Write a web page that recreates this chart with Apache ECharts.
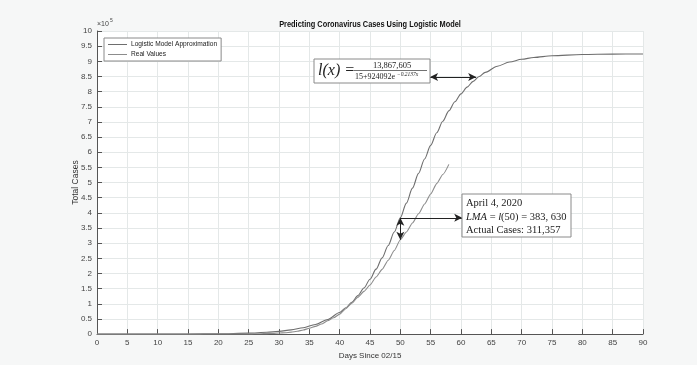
<!DOCTYPE html>
<html><head><meta charset="utf-8">
<script src="https://cdn.jsdelivr.net/npm/echarts@6/dist/echarts.min.js"></script>
<style>html,body{margin:0;padding:0;background:#f6f7f7}#c{width:697px;height:365px}</style>
</head><body><div id="c"></div>
<script>
const titleText = 'Predicting Coronavirus Cases Using Logistic Model';
const seriesNames = ['Logistic Model Approximation', 'Real Values'];
const logDays = [0,5,10,15,20,25,28,30,32,34,36,38,40,41,42,43,44,45,46,47,48,49,50,51,52,53,54,55,56,57,58,59,60,61,62,63,64,66,68,70,72,75,80,85,90];
const logCases = [15,44,127,370,1077,3136,5919,9035,13788,20983,31778,47870,71374,86836,105140,126800,151990,181130,214300,251550,292450,336680,383630,432150,481500,530310,577800,622700,664400,702400,736500,766380,792500,814830,833900,849860,863500,883800,897600,906700,912800,918300,922400,923800,924300];
const realDays = [0,1,2,3,4,5,6,7,8,9,10,11,12,13,14,15,16,17,18,19,20,21,22,23,24,25,26,27,28,29,30,31,32,33,34,35,36,37,38,39,40,41,42,43,44,45,46,47,48,49,50,51,52,53,54,55,56,57,58];
const realCases = [15,15,15,15,15,15,15,15,15,15,15,15,15,15,15,68,69,74,98,118,149,217,262,402,518,583,959,1281,1663,2179,3500,4600,6400,9400,13700,19100,25500,33300,43800,53700,65800,83800,101700,121500,140900,161800,188200,213400,243600,275600,311357,336800,366600,397000,429000,462000,496500,526400,560000];
const lmaDay = 50, lmaValue = 383630, actualValue = 311357;
const formulaArrowDays = [54.9, 62.5], formulaArrowValue = 848000;
const boxArrowEndDay = 60.2;

const sans = "'Liberation Sans',Arial,sans-serif";
const serif = "'Liberation Serif','DejaVu Serif',serif";

const chart = echarts.init(document.getElementById('c'), null, {renderer:'canvas'});
chart.setOption({
  backgroundColor: '#f6f7f7',
  animation: false,
  grid: {left: 97, right: 54, top: 31, bottom: 30, show: true, backgroundColor: '#fff', borderWidth: 0},
  legend: {
    data: seriesNames, orient: 'vertical', left: 104, top: 38,
    itemWidth: 19, itemHeight: 1, itemGap: 3, icon: 'rect',
    padding: [3, 4, 3, 4], borderColor: '#8a8a8a', borderWidth: 1, backgroundColor: '#fff',
    textStyle: {fontFamily: sans, fontSize: 6.6, color: '#222', padding: [0,0,0,-1]}
  },
  xAxis: {
    type: 'value', min: 0, max: 90, interval: 5,
    name: 'Days Since 02/15', nameLocation: 'middle', nameGap: 16,
    nameTextStyle: {fontFamily: sans, fontSize: 8, color: '#333'},
    axisLine: {show: true, lineStyle: {color: '#555', width: 1}},
    axisTick: {show: true, inside: true, length: 5, lineStyle: {color: '#555'}},
    axisLabel: {fontFamily: sans, fontSize: 8, color: '#444', margin: 5},
    splitLine: {show: true, lineStyle: {color: '#e4e8e8', width: 1}}
  },
  yAxis: {
    type: 'value', min: 0, max: 1000000, interval: 50000,
    name: 'Total Cases', nameLocation: 'middle', nameGap: 16.5, nameMoveOverlap: false,
    nameTextStyle: {fontFamily: sans, fontSize: 8.5, color: '#333'},
    axisLine: {show: true, lineStyle: {color: '#555', width: 1}},
    axisTick: {show: true, inside: true, length: 5, lineStyle: {color: '#555'}},
    axisLabel: {fontFamily: sans, fontSize: 8, color: '#444', margin: 5,
      formatter: v => String(Math.round(v / 1e4) / 10)},
    splitLine: {show: true, lineStyle: {color: '#e4e8e8', width: 1}}
  },
  series: [
    {name: seriesNames[0], type: 'line', showSymbol: false, smooth: 0.3, smoothMonotone: 'x',
     data: logDays.map((d, i) => [d, logCases[i]]),
     lineStyle: {color: '#6e6e6e', width: 1.1}, itemStyle: {color: '#6e6e6e'},
     markLine: {silent: true, symbolSize: [6, 8], label: {show: false},
       lineStyle: {color: '#222', width: 1, type: 'solid'},
       data: [
         [{coord: [formulaArrowDays[0], formulaArrowValue], symbol: 'arrow'}, {coord: [formulaArrowDays[1], formulaArrowValue], symbol: 'arrow'}],
         [{coord: [lmaDay, lmaValue], symbol: 'arrow'}, {coord: [lmaDay, actualValue], symbol: 'arrow'}],
         [{coord: [lmaDay, lmaValue], symbol: 'none'}, {coord: [boxArrowEndDay, lmaValue], symbol: 'arrow'}]
       ]}
    },
    {name: seriesNames[1], type: 'line', showSymbol: false, smooth: 0.2, smoothMonotone: 'x',
     data: realDays.map((d, i) => [d, realCases[i]]),
     lineStyle: {color: '#8c8c8c', width: 1.1}, itemStyle: {color: '#8c8c8c'}}
  ],
  graphic: [
    {type: 'text', x: 370, y: 20.5, scaleX: 0.82, z: 100,
     style: {text: titleText, fontFamily: sans, fontSize: 9, fontWeight: 'bold', fill: '#111', align: 'center', verticalAlign: 'top'}},
    {type: 'text', x: 97, y: 21, z: 100, style: {text: '×10', fontFamily: sans, fontSize: 7, fill: '#444', verticalAlign: 'top'}},
    {type: 'text', x: 110, y: 18, z: 100, style: {text: '5', fontFamily: sans, fontSize: 5, fill: '#444', verticalAlign: 'top'}},
    {type: 'group', x: 314, y: 59, z: 100, children: [
      {type: 'rect', z: 100, shape: {x: 0, y: 0, width: 116, height: 24}, style: {fill: '#fff', stroke: '#8a8a8a', lineWidth: 1}},
      {type: 'text', z: 101, x: 4, y: 4, style: {text: 'l(x) =', fontFamily: serif, fontSize: 16, fontStyle: 'italic', fill: '#222', verticalAlign: 'top'}},
      {type: 'text', z: 101, x: 78, y: 2.5, style: {text: '13,867,605', fontFamily: serif, fontSize: 8.5, fill: '#222', align: 'center', verticalAlign: 'top'}},
      {type: 'line', z: 101, shape: {x1: 40, y1: 11.5, x2: 113, y2: 11.5}, style: {stroke: '#333', lineWidth: 0.7}},
      {type: 'text', z: 101, x: 41, y: 14, style: {text: '15+924092e', fontFamily: serif, fontSize: 8, fill: '#222', verticalAlign: 'top'}},
      {type: 'text', z: 101, x: 83, y: 12.5, style: {text: '−0.2137x', fontFamily: serif, fontSize: 5.5, fontStyle: 'italic', fill: '#222', verticalAlign: 'top'}}
    ]},
    {type: 'group', x: 462, y: 194, z: 100, children: [
      {type: 'rect', z: 100, shape: {x: 0, y: 0, width: 109, height: 43}, style: {fill: '#fff', stroke: '#8a8a8a', lineWidth: 1}},
      {type: 'text', z: 101, x: 4, y: 2.5, style: {text: 'April 4, 2020\n{i|LMA} = {i|l}(50) = 383, 630\nActual Cases: 311,357',
        fontFamily: serif, fontSize: 10.5, lineHeight: 13.5, fill: '#222', verticalAlign: 'top',
        rich: {i: {fontFamily: serif, fontSize: 10.5, fontStyle: 'italic', fill: '#222'}}}}
    ]}
  ]
});
</script></body></html>
